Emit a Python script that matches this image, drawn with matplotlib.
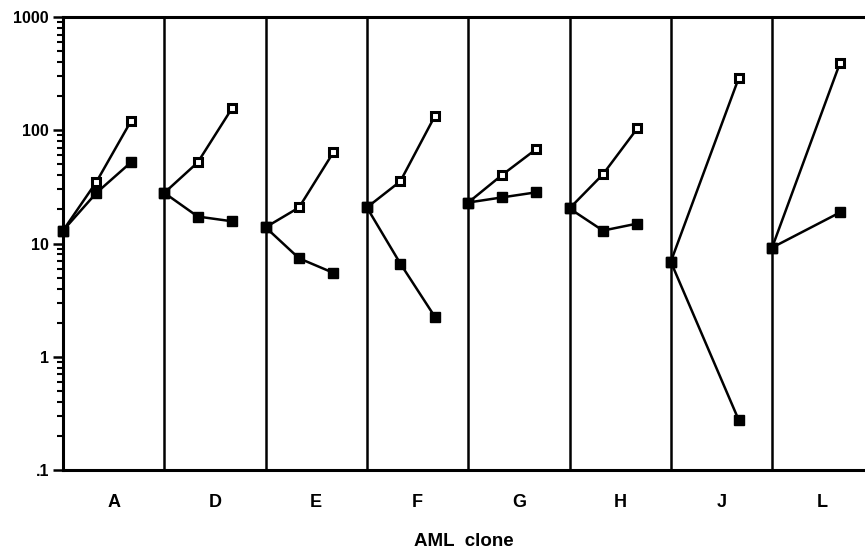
import matplotlib
matplotlib.use('Agg')
import matplotlib.pyplot as plt
from matplotlib.ticker import FixedLocator, FixedFormatter, LogLocator, NullFormatter

plt.rcParams['font.family'] = ['Liberation Sans', 'DejaVu Sans']

# AML clones and values (log scale)
clones = ['A', 'D', 'E', 'F', 'G', 'H', 'J', 'L']
start_val = [13, 28, 13.9, 20.8, 23, 20.4, 6.9, 9.2]
open_mid = [35, 52, 20.8, 35.4, 40, 40.8, None, None]
open_end = [120, 157, 64, 133, 68, 104, 288, 392]
filled_mid = [28, 17.3, 7.4, 6.65, 25.5, 13, None, None]
filled_end = [52, 15.7, 5.5, 2.26, 28.3, 15, 0.277, 18.8]

fig = plt.figure(figsize=(8.65, 5.52), dpi=100)
ax = fig.add_axes([63 / 865, 1 - 470 / 552, 1 - 63 / 865, (470 - 17) / 552])

lw = 1.8
for i, name in enumerate(clones):
    # open-square series
    xs, ys = [i], [start_val[i]]
    if open_mid[i] is not None:
        xs.append(i + 0.33)
        ys.append(open_mid[i])
    xs.append(i + 0.67)
    ys.append(open_end[i])
    ax.plot(xs, ys, color='black', lw=lw, marker='s', ms=5.5,
            mfc='white', mec='black', mew=2.2, zorder=3, clip_on=False)
    # filled-square series
    xs, ys = [i], [start_val[i]]
    if filled_mid[i] is not None:
        xs.append(i + 0.33)
        ys.append(filled_mid[i])
    xs.append(i + 0.67)
    ys.append(filled_end[i])
    ax.plot(xs, ys, color='black', lw=lw, marker='s', ms=6.5,
            mfc='black', mec='black', zorder=4, clip_on=False)
    ax.plot([i], [start_val[i]], marker='s', ms=7, color='black',
            zorder=5, clip_on=False)
    if i > 0:
        ax.axvline(i, color='black', lw=1.8, zorder=2)

ax.set_yscale('log')
ax.set_ylim(0.1, 1000)
ax.set_xlim(0, (865 - 63) / 101.3)

ax.yaxis.set_major_locator(FixedLocator([0.1, 1, 10, 100, 1000]))
ax.yaxis.set_major_formatter(FixedFormatter(['.1', '1', '10', '100', '1000']))
ax.yaxis.set_minor_locator(LogLocator(base=10, subs=range(2, 10)))
ax.yaxis.set_minor_formatter(NullFormatter())
ax.tick_params(axis='y', which='major', direction='out', length=7, width=1.8,
               labelsize=11.5, pad=3)
ax.tick_params(axis='y', which='minor', direction='out', length=4, width=1.5)
for lab in ax.get_yticklabels():
    lab.set_fontweight('bold')

ax.set_xticks([i + 0.5 for i in range(len(clones))])
ax.set_xticklabels(clones, fontsize=13, fontweight='bold')
ax.tick_params(axis='x', length=0, pad=17)
ax.set_xlabel('AML  clone', fontsize=13.5, fontweight='bold', labelpad=16)

ax.spines['right'].set_visible(False)
for s in ['left', 'bottom', 'top']:
    ax.spines[s].set_linewidth(2.2)

fig.savefig('out.png', dpi=100)
